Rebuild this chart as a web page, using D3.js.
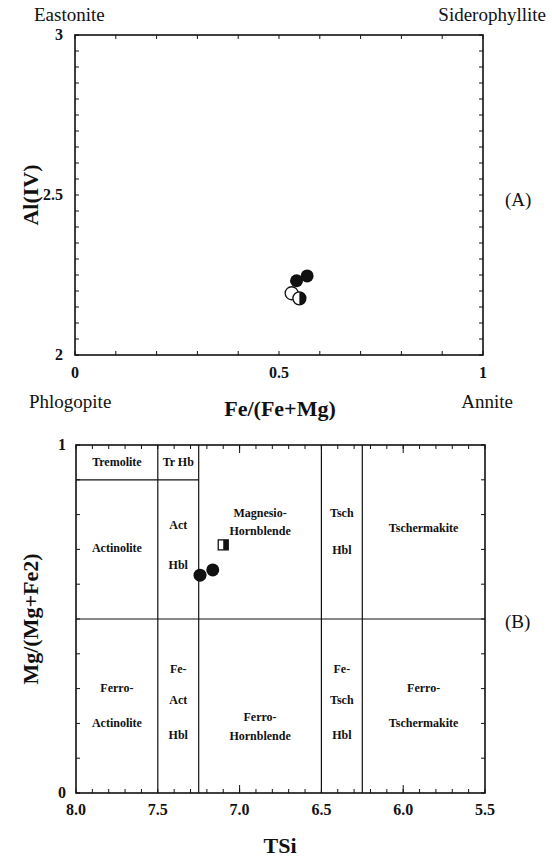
<!DOCTYPE html>
<html><head><meta charset="utf-8">
<script src="https://cdn.jsdelivr.net/npm/d3@7"></script>
<style>body{margin:0;background:#fff}</style>
</head><body><svg id="c" width="552" height="862"></svg>
<script>
// Panel A: biotite Fe/(Fe+Mg) vs Al(IV)
const bioFilled = [[0.543, 2.232], [0.569, 2.247]];
const bioOpen = [[0.531, 2.193]];
const bioHalf = [[0.550, 2.177]];
const aXTicks = [0, 0.5, 1];
const aXTickLabels = ["0", "0.5", "1"];
const aYTicks = [2, 2.5, 3];
const aYTickLabels = ["2", "2.5", "3"];
const aCorners = ["Eastonite", "Siderophyllite", "Phlogopite", "Annite"];

// Panel B: amphibole TSi vs Mg/(Mg+Fe2)
const amphFilled = [[7.242, 0.626], [7.164, 0.641]];
const amphHalfSquare = [[7.10, 0.713]];
const bXTicks = [8.0, 7.5, 7.0, 6.5, 6.0, 5.5];
const bYTicks = [0, 1];
const bVLines = [7.5, 7.25, 6.5, 6.25];
const bHLine = 0.5;
const bTremLine = [8.0, 7.25, 0.9];
const bRegions = [
  {x: 7.75, y: 0.95, t: "Tremolite"}, {x: 7.375, y: 0.95, t: "Tr Hb"},
  {x: 7.75, y: 0.705, t: "Actinolite"},
  {x: 7.375, y: 0.77, t: "Act"}, {x: 7.375, y: 0.655, t: "Hbl"},
  {x: 6.875, y: 0.806, t: "Magnesio-"}, {x: 6.875, y: 0.752, t: "Hornblende"},
  {x: 6.375, y: 0.804, t: "Tsch"}, {x: 6.375, y: 0.697, t: "Hbl"},
  {x: 5.875, y: 0.761, t: "Tschermakite"},
  {x: 7.75, y: 0.303, t: "Ferro-"}, {x: 7.75, y: 0.202, t: "Actinolite"},
  {x: 7.375, y: 0.355, t: "Fe-"}, {x: 7.375, y: 0.268, t: "Act"}, {x: 7.375, y: 0.168, t: "Hbl"},
  {x: 6.875, y: 0.218, t: "Ferro-"}, {x: 6.875, y: 0.163, t: "Hornblende"},
  {x: 6.375, y: 0.355, t: "Fe-"}, {x: 6.375, y: 0.268, t: "Tsch"}, {x: 6.375, y: 0.168, t: "Hbl"},
  {x: 5.875, y: 0.303, t: "Ferro-"}, {x: 5.875, y: 0.202, t: "Tschermakite"}
];

const FONT = "'Liberation Serif'";
const svg = d3.select("#c");

function txt(g, x, y, t, size, opts = {}) {
  return g.append("text").attr("x", x).attr("y", y)
    .attr("text-anchor", opts.anchor || "start")
    .attr("font-size", size)
    .attr("font-weight", opts.bold ? "bold" : "normal")
    .attr("fill", "#111")
    .style("font-family", FONT)
    .text(t);
}

function frame(g, x, y, xStep, yStep, xDom, yDom) {
  const [x0, x1] = x.range(), [y1, y0] = y.range();
  g.append("rect").attr("x", x0).attr("y", y0).attr("width", x1 - x0).attr("height", y1 - y0)
    .attr("fill", "none").attr("stroke", "#111").attr("stroke-width", 1.6);
  const xs = d3.range(0, Math.round(Math.abs(xDom[1] - xDom[0]) / xStep) + 1).map(i => xDom[0] + Math.sign(xDom[1] - xDom[0]) * i * xStep);
  const ys = d3.range(0, Math.round(Math.abs(yDom[1] - yDom[0]) / yStep) + 1).map(i => yDom[0] + i * yStep);
  xs.forEach(v => {
    const px = x(v);
    g.append("line").attr("x1", px).attr("x2", px).attr("y1", y1).attr("y2", y1 - 4).attr("stroke", "#111");
    g.append("line").attr("x1", px).attr("x2", px).attr("y1", y0).attr("y2", y0 + 4).attr("stroke", "#111");
  });
  ys.forEach(v => {
    const py = y(v);
    g.append("line").attr("x1", x0).attr("x2", x0 + 4).attr("y1", py).attr("y2", py).attr("stroke", "#111");
    g.append("line").attr("x1", x1).attr("x2", x1 - 4).attr("y1", py).attr("y2", py).attr("stroke", "#111");
  });
}

// ---------- Panel A ----------
const xA = d3.scaleLinear().domain([0, 1]).range([75, 483]);
const yA = d3.scaleLinear().domain([2, 3]).range([355, 35]);
const gA = svg.append("g");
frame(gA, xA, yA, 0.1, 0.05, [0, 1], [2, 3]);
aXTicks.forEach((v, i) => txt(gA, xA(v), 378, aXTickLabels[i], 16, {anchor: "middle", bold: true}));
aYTicks.forEach((v, i) => txt(gA, 63, yA(v) + 5, aYTickLabels[i], 16, {anchor: "end", bold: true}));
txt(gA, 280, 416, "Fe/(Fe+Mg)", 22, {anchor: "middle", bold: true});
txt(gA, 0, 0, "Al(IV)", 22, {anchor: "middle", bold: true}).attr("transform", "translate(38,195) rotate(-90)");
txt(gA, 34, 21, aCorners[0], 19);
txt(gA, 546, 21, aCorners[1], 19, {anchor: "end"});
txt(gA, 29, 408, aCorners[2], 19);
txt(gA, 513, 408, aCorners[3], 19, {anchor: "end"});
txt(gA, 505, 206, "(A)", 19);
const r = 6.5;
bioOpen.forEach(d => gA.append("circle").attr("cx", xA(d[0])).attr("cy", yA(d[1])).attr("r", r).attr("fill", "#fff").attr("stroke", "#111").attr("stroke-width", 1.3));
bioHalf.forEach(d => {
  const cx = xA(d[0]), cy = yA(d[1]);
  gA.append("circle").attr("cx", cx).attr("cy", cy).attr("r", r).attr("fill", "#fff").attr("stroke", "#111").attr("stroke-width", 1.3);
  gA.append("path").attr("d", `M${cx},${cy - r} A${r},${r} 0 0 1 ${cx},${cy + r} Z`).attr("fill", "#111");
});
bioFilled.forEach(d => gA.append("circle").attr("cx", xA(d[0])).attr("cy", yA(d[1])).attr("r", r).attr("fill", "#111"));

// ---------- Panel B ----------
const xB = d3.scaleLinear().domain([8.0, 5.5]).range([76, 485]);
const yB = d3.scaleLinear().domain([0, 1]).range([793, 445]);
const gB = svg.append("g");
frame(gB, xB, yB, 0.1, 0.1, [8.0, 5.5], [0, 1]);
[7.0, 6.0].forEach(v => {
  gB.append("line").attr("x1", xB(v)).attr("x2", xB(v)).attr("y1", 793).attr("y2", 785).attr("stroke", "#111");
  gB.append("line").attr("x1", xB(v)).attr("x2", xB(v)).attr("y1", 445).attr("y2", 453).attr("stroke", "#111");
});
bVLines.forEach(v => gB.append("line").attr("x1", xB(v)).attr("x2", xB(v)).attr("y1", yB(0)).attr("y2", yB(1)).attr("stroke", "#111").attr("stroke-width", 1.2));
gB.append("line").attr("x1", xB(8.0)).attr("x2", xB(5.5)).attr("y1", yB(bHLine)).attr("y2", yB(bHLine)).attr("stroke", "#111").attr("stroke-width", 1.2);
gB.append("line").attr("x1", xB(bTremLine[0])).attr("x2", xB(bTremLine[1])).attr("y1", yB(bTremLine[2])).attr("y2", yB(bTremLine[2])).attr("stroke", "#111").attr("stroke-width", 1.2);
bXTicks.forEach(v => txt(gB, xB(v), 815, v.toFixed(1), 16, {anchor: "middle", bold: true}));
bYTicks.forEach(v => txt(gB, 66, yB(v) + 5, String(v), 16, {anchor: "end", bold: true}));
txt(gB, 280, 853, "TSi", 22, {anchor: "middle", bold: true});
txt(gB, 0, 0, "Mg/(Mg+Fe2)", 22, {anchor: "middle", bold: true}).attr("transform", "translate(38,619) rotate(-90)");
txt(gB, 505, 628, "(B)", 19);
bRegions.forEach(d => txt(gB, xB(d.x), yB(d.y) + 4, d.t, 12, {anchor: "middle", bold: true}));
const s = 10;
amphHalfSquare.forEach(d => {
  const cx = xB(d[0]), cy = yB(d[1]);
  gB.append("rect").attr("x", cx - s / 2).attr("y", cy - s / 2).attr("width", s).attr("height", s).attr("fill", "#fff").attr("stroke", "#111").attr("stroke-width", 1.3);
  gB.append("rect").attr("x", cx).attr("y", cy - s / 2).attr("width", s / 2).attr("height", s).attr("fill", "#111");
});
amphFilled.forEach(d => gB.append("circle").attr("cx", xB(d[0])).attr("cy", yB(d[1])).attr("r", r).attr("fill", "#111"));
</script></body></html>
